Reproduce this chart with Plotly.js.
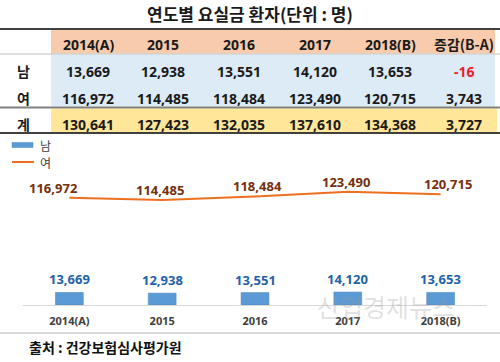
<!DOCTYPE html>
<html>
<head>
<meta charset="utf-8">
<script src="https://cdn.plot.ly/plotly-3.0.1.min.js"></script>
<style>html,body{margin:0;padding:0;background:#fff}#chart{width:500px;height:362px}</style>
</head>
<body>
<div id="chart"></div>
<script>
// ---- data ----
const years = ["2014(A)", "2015", "2016", "2017", "2018(B)"];
const male = [13669, 12938, 13551, 14120, 13653];
const female = [116972, 114485, 118484, 123490, 120715];
const total = [130641, 127423, 132035, 137610, 134368];
const changeHeader = "증감(B-A)";
const changeValues = [-16, 3743, 3727];   // 남, 여, 계
const rowLabels = ["남", "여", "계"];
const seriesNames = ["남", "여"];
const titleText = "연도별 요실금 환자(단위 : 명)";
const sourceText = "출처 : 건강보험심사평가원";
const watermark = "산업경제뉴스";

// ---- layout helpers (pixel -> paper) ----
const FW = 500, FH = 362;
const L = 23, R = 13, T = 140, B = 57;
const W = FW - L - R, H = FH - T - B;
const px = x => (x - L) / W;
const py = y => 1 - (y - T) / H;
const fmt = v => v.toLocaleString('en-US');
const FONT = "Noto Sans, Noto Sans CJK KR, sans-serif";
const KFONT = "Noto Sans CJK KR, Noto Sans, sans-serif";

const shapes = [];
const annotations = [];
function rect(x0, y0, x1, y1, color) {
  shapes.push({type: 'rect', xref: 'paper', yref: 'paper', x0: px(x0), x1: px(x1), y0: py(y1), y1: py(y0),
    fillcolor: color, line: {width: 0}, layer: 'below'});
}
function hline(y, x0, x1, color, w) {
  shapes.push({type: 'line', xref: 'paper', yref: 'paper', x0: px(x0), x1: px(x1), y0: py(y), y1: py(y),
    line: {color: color, width: w}, layer: 'below'});
}
function txt(x, y, text, size, color, anchor, family) {
  annotations.push({xref: 'paper', yref: 'paper', x: px(x), y: py(y), text: text, showarrow: false,
    xanchor: anchor || 'center', yanchor: 'middle', font: {family: family || FONT, size: size, color: color}});
}

// table backgrounds
rect(51, 30, 495, 53.5, '#F8CBAD');
rect(51, 54.5, 495, 106.5, '#DDEBF7');
rect(51, 108.5, 497, 132, '#FFE699');
// table lines
hline(29, 0, 500, '#404040', 2);
hline(54, 0, 500, '#bfbfbf', 1);
hline(107.5, 0, 500, '#808080', 2);
hline(133, 0, 500, '#404040', 2);
// bottom separator
hline(333, 0, 500, '#d9d9d9', 2);

// table text
const colX = [88, 163, 239, 315, 390, 464];
const rowY = [71, 98, 124];
const TS = 14, TC = '#1a1a1a';
years.forEach((y, i) => txt(colX[i], 44, '<b>' + y + '</b>', TS, TC));
txt(colX[5], 44, '<b>' + changeHeader + '</b>', TS, TC, 'center', KFONT);
const rows = [male, female, total];
rows.forEach((arr, r) => {
  txt(23, rowY[r], '<b>' + rowLabels[r] + '</b>', TS, TC, 'center', KFONT);
  arr.forEach((v, i) => txt(colX[i], rowY[r], '<b>' + fmt(v) + '</b>', TS, TC));
  const c = changeValues[r];
  txt(colX[5], rowY[r], '<b>' + fmt(c) + '</b>', TS, c < 0 ? '#e8212b' : TC);
});

// custom legend
shapes.push({type: 'rect', xref: 'paper', yref: 'paper', x0: px(12), x1: px(33), y0: py(147.5), y1: py(142.5),
  fillcolor: '#5B9BD5', line: {color: '#4a86c0', width: 0.5}});
shapes.push({type: 'line', xref: 'paper', yref: 'paper', x0: px(12), x1: px(34), y0: py(162), y1: py(162),
  line: {color: '#ED7020', width: 2}});
txt(38, 145, seriesNames[0], 12, '#404040', 'left', KFONT);
txt(38, 162, seriesNames[1], 12, '#404040', 'left', KFONT);

// line labels (x given as category index)
const lineLabelDx = [-16, -2, 2, -2, 7];
female.forEach((v, i) => annotations.push({xref: 'x', yref: 'y', x: i, y: v, yshift: 10, xshift: lineLabelDx[i],
  text: '<b>' + fmt(v) + '</b>', showarrow: false, yanchor: 'middle',
  font: {family: FONT, size: 13, color: '#75300E'}}));
// bar labels
male.forEach((v, i) => annotations.push({xref: 'x', yref: 'y', x: i, y: v, yshift: 13,
  text: '<b>' + fmt(v) + '</b>', showarrow: false, yanchor: 'middle',
  font: {family: FONT, size: 13, color: '#1F62A8'}}));

// source + watermark
txt(27, 347, '<b>' + sourceText + '</b>', 14, '#111111', 'left', KFONT);
txt(386, 306, watermark, 25, 'rgba(150,150,150,0.3)', 'center', KFONT);

const traces = [
  {type: 'bar', x: years, y: male, name: seriesNames[0], width: 0.3,
   marker: {color: '#5B9BD5', line: {color: '#4a7eb9', width: 0.5}}, hoverinfo: 'skip'},
  {type: 'scatter', mode: 'lines', x: years, y: female, name: seriesNames[1],
   line: {color: '#ED7020', width: 2}, hoverinfo: 'skip'}
];

const layout = {
  width: FW, height: FH,
  margin: {l: L, r: R, t: T, b: B, pad: 0},
  paper_bgcolor: '#ffffff', plot_bgcolor: 'rgba(0,0,0,0)',
  showlegend: false,
  title: {text: '<b>' + titleText + '</b>', x: 0.5, xref: 'container', xanchor: 'center',
    y: 1 - 15 / FH, yref: 'container', yanchor: 'middle',
    font: {family: KFONT, size: 17, color: '#1a1a1a'}},
  xaxis: {type: 'category', range: [-0.5, 4.5], showline: true, linecolor: '#d9d9d9', linewidth: 1,
    showgrid: false, zeroline: false, ticks: '', ticklabelstandoff: 6,
    tickfont: {family: FONT, size: 11, color: '#404040', weight: 700}, fixedrange: true},
  yaxis: {range: [0, 180000], visible: false, showgrid: false, zeroline: false, fixedrange: true},
  shapes: shapes,
  annotations: annotations
};

Plotly.newPlot('chart', traces, layout, {displayModeBar: false, staticPlot: true});
</script>
</body>
</html>
